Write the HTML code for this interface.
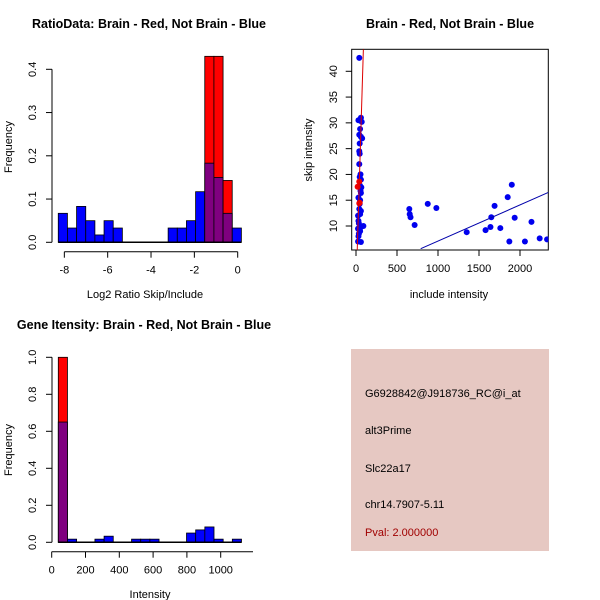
<!DOCTYPE html>
<html><head><meta charset="utf-8"><style>
body{margin:0;background:#fff}
svg{display:block;font-family:"Liberation Sans",sans-serif}
</style></head><body>
<svg id="s" width="600" height="600" viewBox="0 0 600 600">
<rect width="600" height="600" fill="#fff"/>
<text x="149" y="28" font-size="12.5" font-weight="bold" text-anchor="middle">RatioData: Brain - Red, Not Brain - Blue</text>
<text x="450" y="28" font-size="12.5" font-weight="bold" text-anchor="middle">Brain - Red, Not Brain - Blue</text>
<text x="144" y="329" font-size="12.5" font-weight="bold" text-anchor="middle">Gene Itensity: Brain - Red, Not Brain - Blue</text>
<text x="145" y="298" font-size="11" text-anchor="middle">Log2 Ratio Skip/Include</text>
<text transform="translate(12,147) rotate(-90)" font-size="11" text-anchor="middle">Frequency</text>
<text x="449" y="298" font-size="11" text-anchor="middle">include intensity</text>
<text transform="translate(312,150) rotate(-90)" font-size="11" text-anchor="middle">skip intensity</text>
<text x="150" y="598" font-size="11" text-anchor="middle">Intensity</text>
<text transform="translate(12,450) rotate(-90)" font-size="11" text-anchor="middle">Frequency</text>
<g>
<rect x="351" y="349" width="198" height="202" fill="#e6c8c2"/>
<text x="365" y="397" font-size="11">G6928842@J918736_RC@i_at</text>
<text x="365" y="434" font-size="11">alt3Prime</text>
<text x="365" y="472" font-size="11">Slc22a17</text>
<text x="365" y="508" font-size="11">chr14.7907-5.11</text>
<text x="365" y="536" font-size="11" fill="#a00000">Pval: 2.000000</text>
</g>
<g id="g1"></g>
<g id="g2"></g>
<g id="g3"></g>
</svg>
<script>
// Ratio histogram data
const ratioBinStart = -8.28;
const ratioBinWidth = 0.4225;
const ratioBlue = [0.067,0.033,0.083,0.05,0.017,0.05,0.033,0,0,0,0,0,0.033,0.033,0.05,0.117,0.183,0.15,0.067,0.033];
const ratioRed  = [0,0,0,0,0,0,0,0,0,0,0,0,0,0,0,0,0.43,0.43,0.143,0];
const ratioXTicks = [-8,-6,-4,-2,0];
const ratioYTicks = [0,0.1,0.2,0.3,0.4];
// Intensity histogram data
const intBinStart = 39;
const intBinWidth = 54.2;
const intBlue = [0.65,0.017,0,0,0.017,0.033,0,0,0.017,0.017,0.017,0,0,0,0.05,0.067,0.083,0.017,0,0.017];
const intRed  = [1.0,0,0,0,0,0,0,0,0,0,0,0,0,0,0,0,0,0,0,0];
const intXTicks = [0,200,400,600,800,1000];
const intYTicks = [0,0.2,0.4,0.6,0.8,1.0];
// Scatter data
const blueX = [650,655,665,715,875,980,1350,1580,1640,1650,1690,1760,1850,1870,1900,1935,2060,2140,2240,2330,
 40,30,60,70,50,40,60,75,45,40,45,40,55,45,60,50,65,55,60,30,50,45,40,60,25,50,30,35,90,60,40,25,50,35,30,25,60];
const blueY = [13.3,12.3,11.7,10.2,14.3,13.5,8.8,9.2,9.8,11.7,13.9,9.6,15.6,7.0,18,11.6,7.0,10.8,7.6,7.4,
 42.6,30.5,31,30.2,28.8,27.7,27.3,27,26,24.5,24,22,20,19.5,19,17.8,17.5,16.8,16.4,15.5,15,14.3,13.3,12.9,12,12.3,11,10.5,10,9.8,9.6,9.5,9,8.5,8,7,6.9];
const redX = [20,40,45,40];
const redY = [17.6,18.6,14.5,14.4];
const redLine = [[15,5.35],[90,44.3]];
const blueLine = [[789,5.6],[2345,16.5]];
const scXTicks = [0,500,1000,1500,2000];
const scYTicks = [10,15,20,25,30,35,40];

const NS="http://www.w3.org/2000/svg";
function mk(parent,tag,attrs){const e=document.createElementNS(NS,tag);for(const k in attrs)e.setAttribute(k,attrs[k]);parent.appendChild(e);return e;}

function hist(g,binStart,binW,blue,red,xTicks,yTicks,sx,sy,axisY,xLineEnd,pref){
  for(let i=0;i<blue.length;i++){
    const x0=sx(binStart+i*binW), x1=sx(binStart+(i+1)*binW);
    const r=red[i], b=blue[i];
    if(r>0){
      const e=mk(g,'rect',{x:x0,y:sy(r),width:x1-x0,height:sy(0)-sy(r),fill:'#ff0000',stroke:'#000','stroke-width':0.8});
      
      
    }
    if(b>0){
      const e=mk(g,'rect',{x:x0,y:sy(b),width:x1-x0,height:sy(0)-sy(b),fill:r>0?'#7f007f':'#0000ff',stroke:'#000','stroke-width':0.8});
      
      
    }
  }
  const base=mk(g,'line',{x1:sx(binStart),x2:sx(binStart+blue.length*binW),y1:sy(0),y2:sy(0),stroke:'#000','stroke-width':1.5});
  
  
  const xa=mk(g,'line',{x1:sx(xTicks[0]),x2:xLineEnd,y1:axisY,y2:axisY,stroke:'#000'});
  
  
  xTicks.forEach(t=>{
    mk(g,'line',{x1:sx(t),x2:sx(t),y1:axisY,y2:axisY+6,stroke:'#000'});
    const tx=mk(g,'text',{x:sx(t),y:axisY+22,'font-size':11,'text-anchor':'middle'});
    tx.textContent=t;
    
    
  });
  const ya=mk(g,'line',{x1:52,x2:52,y1:sy(yTicks[0]),y2:sy(yTicks[yTicks.length-1]),stroke:'#000'});
  
  
  yTicks.forEach(t=>{
    mk(g,'line',{x1:46,x2:52,y1:sy(t),y2:sy(t),stroke:'#000'});
    const tx=mk(g,'text',{transform:`translate(36,${sy(t)}) rotate(-90)`,'font-size':11,'text-anchor':'middle'});
    tx.textContent=t.toFixed(1);
    
    
  });
}

// Plot 1
const g1=document.getElementById('g1');
hist(g1,ratioBinStart,ratioBinWidth,ratioBlue,ratioRed,ratioXTicks,ratioYTicks,
  v=>237.7+v*21.67, v=>242.3-v*432.5, 251.7, 237.7,'ratio');

// Plot 3
const g3=document.getElementById('g3');
hist(g3,intBinStart,intBinWidth,intBlue,intRed,intXTicks,intYTicks,
  v=>51.7+v*0.169, v=>542.3-v*185, 551.7, 253,'intensity');

// Plot 2
const g2=document.getElementById('g2');
const sx=v=>356+v*0.082, sy=v=>226-(v-10)*5.157;
const cp=mk(g2,'clipPath',{id:'clip2'});mk(cp,'rect',{x:351.7,y:49.3,width:196.6,height:200.7});
const box=mk(g2,'rect',{x:351.7,y:49.3,width:196.6,height:200.7,fill:'none',stroke:'#000'});


scXTicks.forEach(t=>{
  mk(g2,'line',{x1:sx(t),x2:sx(t),y1:250,y2:256,stroke:'#000'});
  const tx=mk(g2,'text',{x:sx(t),y:272,'font-size':11,'text-anchor':'middle'});tx.textContent=t;
  
  
});
scYTicks.forEach(t=>{
  mk(g2,'line',{x1:345.7,x2:351.7,y1:sy(t),y2:sy(t),stroke:'#000'});
  const tx=mk(g2,'text',{transform:`translate(337,${sy(t)}) rotate(-90)`,'font-size':11,'text-anchor':'middle'});tx.textContent=t;
  
  
});
const pts=mk(g2,'g',{'clip-path':'url(#clip2)'});
for(let i=0;i<blueX.length;i++){
  const c=mk(pts,'circle',{cx:sx(blueX[i]),cy:sy(blueY[i]),r:3,fill:'#0000ee'});
  
  
}
for(let i=0;i<redX.length;i++){
  const c=mk(pts,'circle',{cx:sx(redX[i]),cy:sy(redY[i]),r:3,fill:'#ee0000'});
  
  
}
const rl=mk(pts,'line',{x1:sx(redLine[0][0]),y1:sy(redLine[0][1]),x2:sx(redLine[1][0]),y2:sy(redLine[1][1]),stroke:'#dd0000','stroke-width':1});


const bl=mk(pts,'line',{x1:sx(blueLine[0][0]),y1:sy(blueLine[0][1]),x2:sx(blueLine[1][0]),y2:sy(blueLine[1][1]),stroke:'#0000aa','stroke-width':1});


</script>
</body></html>
